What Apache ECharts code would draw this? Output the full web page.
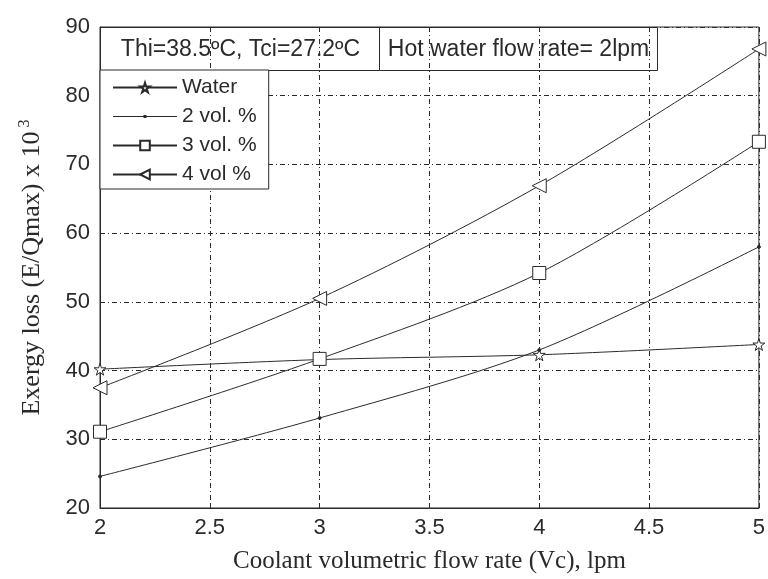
<!DOCTYPE html>
<html lang="en">
<head>
<meta charset="utf-8">
<title>Exergy loss</title>
<script src="https://cdn.jsdelivr.net/npm/echarts@6/dist/echarts.min.js"></script>
<style>
  html, body { margin: 0; padding: 0; background: #fff; }
  #main { width: 768px; height: 579px; }
</style>
</head>
<body>
<div id="main"></div>
<script>
// data
var flowRates = [2, 3, 4, 5];
var water = [40.2, 41.6, 42.3, 43.8];
var vol2 = [24.6, 33.1, 43.0, 58.0];
var vol3 = [31.1, 41.7, 54.2, 73.3];
var vol4 = [37.5, 50.5, 66.9, 86.8];
var seriesNames = ['Water', '2 vol. %', '3 vol. %', '4 vol %'];
var yTicks = [20, 30, 40, 50, 60, 70, 80, 90];
var xTicks = [2, 2.5, 3, 3.5, 4, 4.5, 5];

var ink = '#2a2a2a';
var starPath = 'path://M50,0 L61,35 L98,35 L68,57 L79,91 L50,70 L21,91 L32,57 L2,35 L39,35 Z';
// legend icon for the dot series: thin line with a tiny dot
var dotLegendPath = 'path://M0,1 L64,1 L64,2 L0,2 Z M30.5,0 L33.5,0 L33.5,3 L30.5,3 Z';

function pairs(ys) {
  return flowRates.map(function (x, i) { return [x, ys[i]]; });
}

function lineSeries(name, ys, symbol, size, extra) {
  var s = {
    name: name,
    type: 'line',
    data: pairs(ys),
    smooth: 0.3,
    symbol: symbol,
    symbolSize: size,
    showAllSymbol: true,
    lineStyle: { color: ink, width: 1 },
    itemStyle: { color: '#fff', borderColor: ink, borderWidth: 1 },
    emphasis: { disabled: true }
  };
  for (var k in extra) s[k] = extra[k];
  return s;
}

var chart = echarts.init(document.getElementById('main'));

var option = {
  animation: false,
  grid: {
    left: 100, right: 8, top: 27, bottom: 68,
    show: true, borderColor: ink, borderWidth: 1
  },
  xAxis: {
    type: 'value',
    min: 2, max: 5, interval: 0.5,
    name: 'Coolant volumetric flow rate (Vc), lpm',
    nameLocation: 'middle',
    nameGap: 41,
    nameTextStyle: { fontFamily: 'Liberation Serif', fontSize: 25, color: ink },
    axisLine: { lineStyle: { color: ink } },
    axisTick: { inside: true, length: 4, lineStyle: { color: ink } },
    axisLabel: {
      fontFamily: 'Liberation Sans', fontSize: 22, color: ink, margin: 9,
      formatter: function (v) { return xTicks.indexOf(v) >= 0 ? String(v) : ''; }
    },
    splitLine: { lineStyle: { color: ink, type: [5, 3, 1, 3], width: 1 } }
  },
  yAxis: {
    type: 'value',
    min: 20, max: 90, interval: 10,
    name: '{t|Exergy loss (E/Qmax) x 10}{s|3}',
    nameLocation: 'middle',
    nameGap: 53,
    nameTextStyle: {
      color: ink,
      rich: {
        t: { fontFamily: 'Liberation Serif', fontSize: 26, color: ink },
        s: { fontFamily: 'Liberation Serif', fontSize: 16, color: ink, padding: [0, 0, 14, 4] }
      }
    },
    axisLine: { show: true, lineStyle: { color: ink } },
    axisTick: { show: true, inside: true, length: 4, lineStyle: { color: ink } },
    axisLabel: {
      fontFamily: 'Liberation Sans', fontSize: 22, color: ink, margin: 10,
      formatter: function (v) { return yTicks.indexOf(v) >= 0 ? String(v) : ''; }
    },
    splitLine: { lineStyle: { color: ink, type: [5, 3, 1, 3], width: 1 } }
  },
  legend: {
    orient: 'vertical',
    left: 100, top: 70,
    padding: [7, 12, 4, 12],
    backgroundColor: '#fff',
    borderColor: ink, borderWidth: 1,
    itemWidth: 64, itemHeight: 12, itemGap: 8,
    textStyle: { fontFamily: 'Liberation Sans', fontSize: 21, lineHeight: 20, color: ink },
    data: [
      seriesNames[0],
      { name: seriesNames[1], icon: dotLegendPath, itemStyle: { color: ink, borderWidth: 0 } },
      seriesNames[2],
      seriesNames[3]
    ]
  },
  graphic: [
    {
      type: 'group', left: 100, top: 27, z: 100,
      children: [
        { type: 'rect', shape: { x: 0, y: 0, width: 279, height: 43 },
          style: { fill: '#fff', stroke: ink, lineWidth: 1 } },
        { type: 'text', x: 140, y: 22,
          style: { text: 'Thi=38.5\u00baC, Tci=27.2\u00baC', fill: ink,
                   font: '23px "Liberation Sans"', align: 'center', verticalAlign: 'middle' } }
      ]
    },
    {
      type: 'group', left: 379, top: 27, z: 100,
      children: [
        { type: 'rect', shape: { x: 0, y: 0, width: 278, height: 43 },
          style: { fill: '#fff', stroke: ink, lineWidth: 1 } },
        { type: 'text', x: 139, y: 22,
          style: { text: 'Hot water flow rate= 2lpm', fill: ink,
                   font: '23px "Liberation Sans"', align: 'center', verticalAlign: 'middle' } }
      ]
    }
  ],
  series: [
    lineSeries(seriesNames[0], water, starPath, 12, {}),
    lineSeries(seriesNames[1], vol2, 'circle', 3, { itemStyle: { color: ink, borderColor: ink } }),
    lineSeries(seriesNames[2], vol3, 'rect', 13, {}),
    lineSeries(seriesNames[3], vol4, 'triangle', 14, { symbolRotate: 90 })
  ]
};

chart.setOption(option);
</script>
</body>
</html>
